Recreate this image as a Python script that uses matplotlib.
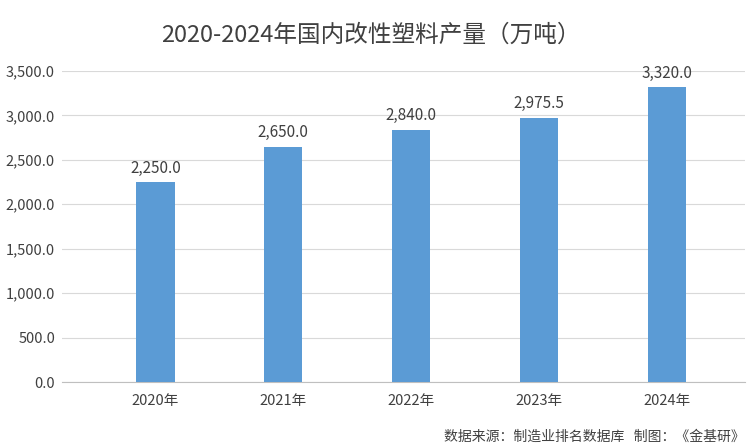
import matplotlib.pyplot as plt

plt.rcParams['font.family'] = ['Noto Sans CJK SC', 'DejaVu Sans']

years = ['2020年', '2021年', '2022年', '2023年', '2024年']
output = [2250.0, 2650.0, 2840.0, 2975.5, 3320.0]
yticks = [0, 500, 1000, 1500, 2000, 2500, 3000, 3500]

fig = plt.figure(figsize=(7.56, 4.48), dpi=100)
ax = fig.add_axes([62 / 756, 1 - 382 / 448, (745 - 62) / 756, (382 - 71) / 448])

x = range(len(years))
ax.bar(x, output, width=0.3, color='#5B9BD5', zorder=3)
for xi, v in zip(x, output):
    ax.text(xi, v + 60, f'{v:,.1f}', ha='center', va='bottom', fontsize=11, color='#404040')

ax.set_ylim(0, 3500)
ax.set_xlim(-0.73, 4.61)
ax.set_yticks(yticks)
ax.set_yticklabels([f'{t:,.1f}' for t in yticks], fontsize=10.5, color='#404040')
ax.set_xticks(list(x))
ax.set_xticklabels(years, fontsize=10.5, color='#404040')
ax.grid(axis='y', color='#D9D9D9', linewidth=0.8, zorder=0)
for s in ['top', 'right', 'left']:
    ax.spines[s].set_visible(False)
ax.spines['bottom'].set_color('#BFBFBF')
ax.tick_params(axis='y', length=0, pad=5)
ax.tick_params(axis='x', length=0, pad=9)

fig.text(0.49, 1 - 35 / 448, '2020-2024年国内改性塑料产量（万吨）', ha='center', va='center',
         fontsize=17, color='#404040')
fig.text(0.985, 1 - 437 / 448, '数据来源：制造业排名数据库   制图：《金基研》', ha='right', va='center',
         fontsize=10, color='#404040')

fig.savefig('out.png', dpi=100)
